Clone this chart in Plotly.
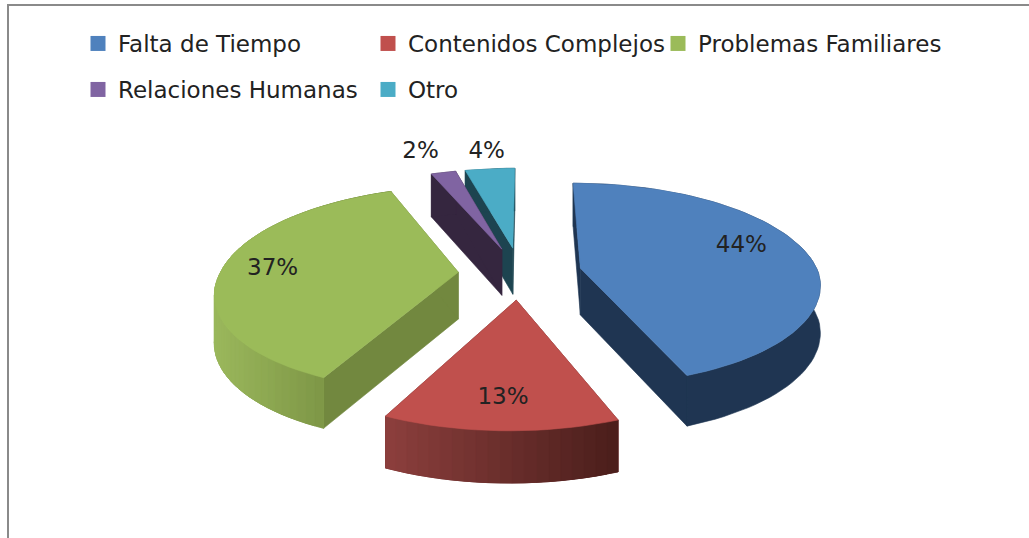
import math
import plotly.graph_objects as go

# ---- data ----
categories = ["Falta de Tiempo", "Contenidos Complejos", "Problemas Familiares",
              "Relaciones Humanas", "Otro"]
values = [44, 13, 37, 2, 4]

# ---- styles ----
top_colors = ["#4F81BD", "#C0504D", "#9BBB59", "#8064A2", "#4BACC6"]
face_colors = ["#1F3552", "#6A2D2B", "#72883F", "#35263F", "#1D4450"]
wall_left = ["#1F3552", "#8C3F3D", "#9BB85C", "#35263F", "#1D4450"]
wall_right = ["#1F3552", "#4A1E1B", "#6C8239", "#35263F", "#1D4450"]
label_frac = [0.70, 0.72, 0.76, 1.22, 1.22]
label_nudge = [(3, -9), (-2, 9), (-6, -1), (-12, -6), (1, -2)]
draw_order = [4, 3, 0, 2, 1]

W, H = 1029, 538
CX, CY = 520.0, 273.0
A, B, K = 238.0, 100.0, 0.16     # perspective projection of the pie plane
SHEAR_BACK, SHEAR_FRONT = 1.0, 6.5
EXPL = 0.26
DEPTH = 47.0
FONT = "DejaVu Sans"
TXT = "#222222"


def project(px, py):
    s = 1 + K * py
    shear = SHEAR_BACK if py > 0 else SHEAR_FRONT
    return CX + A * px / s + shear * py, CY - B * py / s


def hex2rgb(h):
    return tuple(int(h[i:i + 2], 16) for i in (1, 3, 5))


def mix(a, b, t):
    ra, rb = hex2rgb(a), hex2rgb(b)
    return "rgb(%d,%d,%d)" % tuple(round(x + (y - x) * t) for x, y in zip(ra, rb))


def poly(fig, pts, color):
    xs = [p[0] for p in pts] + [pts[0][0]]
    ys = [p[1] for p in pts] + [pts[0][1]]
    fig.add_trace(go.Scatter(x=xs, y=ys, mode="lines", fill="toself", fillcolor=color,
                             line=dict(width=0.6, color=color), hoverinfo="skip",
                             showlegend=False))


total = sum(values)
spans, acc = [], 0.0
for v in values:
    a0 = acc / total * 2 * math.pi
    acc += v
    spans.append((a0, acc / total * 2 * math.pi))

fig = go.Figure()
labels_x, labels_y, labels_t = [], [], []

for idx in draw_order:
    a0, a1 = spans[idx]
    mid = (a0 + a1) / 2
    ox, oy = EXPL * math.sin(mid), EXPL * math.cos(mid)

    def pt(r, ang):
        return ox + r * math.sin(ang), oy + r * math.cos(ang)

    def top(r, ang):
        return project(*pt(r, ang))

    def bot(r, ang):
        px, py = pt(r, ang)
        x, y = project(px, py)
        return x, y + DEPTH / (1 + 0.08 * py)

    n = max(6, int(values[idx] * 1.6))
    angs = [a0 + (a1 - a0) * i / n for i in range(n + 1)]
    arc = [top(1, a) for a in angs]
    arc_bot = [bot(1, a) for a in angs]
    # radial walls
    poly(fig, [top(0, 0), top(1, a0), bot(1, a0), bot(0, 0)], face_colors[idx])
    poly(fig, [top(0, 0), top(1, a1), bot(1, a1), bot(0, 0)], face_colors[idx])
    # outer wall: a solid base, then strips shaded along x, each running over the next
    xmin, xmax = min(p[0] for p in arc), max(p[0] for p in arc)
    poly(fig, arc + arc_bot[::-1], mix(wall_left[idx], wall_right[idx], 0.5))
    if wall_left[idx] != wall_right[idx]:
        for i in range(n):
            j = min(i + 2, n)
            xc = (arc[i][0] + arc[i + 1][0]) / 2
            t = (xc - xmin) / max(xmax - xmin, 1)
            poly(fig, arc[i:j + 1] + arc_bot[i:j + 1][::-1], mix(wall_left[idx], wall_right[idx], t))
    # top face
    poly(fig, [top(0, 0)] + arc, top_colors[idx])

    lx, ly = top(label_frac[idx], mid)
    labels_x.append(lx + label_nudge[idx][0])
    labels_y.append(ly + label_nudge[idx][1])
    labels_t.append(f"{values[idx]}%")

fig.add_trace(go.Scatter(x=labels_x, y=labels_y, text=labels_t, mode="text", hoverinfo="skip",
                         textfont=dict(family=FONT, size=23, color=TXT), showlegend=False))

# legend entries
row_of = ["legend", "legend", "legend", "legend2", "legend2"]
for name, color, row in zip(categories, top_colors, row_of):
    fig.add_trace(go.Scatter(x=[None], y=[None], mode="markers", name=name, legend=row,
                             marker=dict(symbol="square", size=15, color=color)))

leg = dict(orientation="h", xanchor="left", yanchor="top", bgcolor="rgba(0,0,0,0)",
           entrywidth=245, entrywidthmode="pixels", traceorder="normal",
           font=dict(family=FONT, size=23, color=TXT))

fig.update_layout(
    width=W, height=H, margin=dict(l=0, r=0, t=0, b=0, pad=0), autosize=False,
    paper_bgcolor="white", plot_bgcolor="white",
    xaxis=dict(range=[0, W], visible=False, fixedrange=True),
    yaxis=dict(range=[H, 0], visible=False, fixedrange=True),
    legend=dict(leg, x=78 / W, y=1 - 22 / H),
    legend2=dict(leg, x=78 / W, y=1 - 68 / H),
    shapes=[
        dict(type="line", xref="x", yref="y", x0=8, x1=8, y0=5, y1=H,
             line=dict(color="#8A8A8A", width=2)),
        dict(type="line", xref="x", yref="y", x0=7, x1=W, y0=5, y1=5,
             line=dict(color="#8A8A8A", width=2)),
    ],
)
fig.write_html("out.html", config={"displayModeBar": False},
               post_script="document.body.style.margin='0';")
